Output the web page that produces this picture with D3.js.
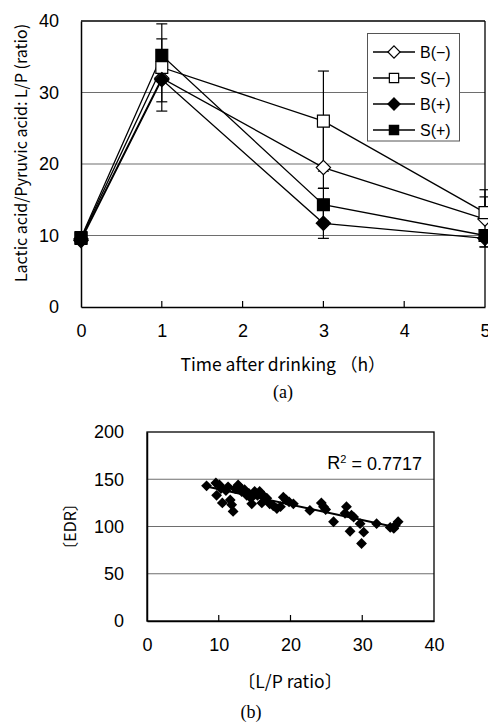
<!DOCTYPE html>
<html><head><meta charset="utf-8">
<script src="https://cdn.jsdelivr.net/npm/d3@7"></script>
<style>body{margin:0;background:#fff}svg{display:block}</style>
</head><body>
<script>
// ---- Chart (a) data ----
const hours = [0, 1, 3, 5];
const xTicksA = [0, 1, 2, 3, 4, 5];
const yTicksA = [0, 10, 20, 30, 40];
const seriesNames = ["B(\u2212)", "S(\u2212)", "B(+)", "S(+)"];
const seriesShapes = ["diamond", "square", "diamond", "square"];
const seriesFilled = [false, false, true, true];
const valsBminus = [9.5, 32.0, 19.5, 12.3];
const valsSminus = [9.6, 33.5, 26.0, 13.2];
const valsBplus  = [9.3, 31.8, 11.7, 9.6];
const valsSplus  = [9.7, 35.2, 14.3, 10.0];
const errUpBminus = [0, 0, 6.5, 3.1];
const errDnBminus = [0, 3.3, 2.9, 0];
const errUpSminus = [0, 4.0, 7.0, 3.2];
const errDnSminus = [0, 0, 7.0, 0];
const errUpBplus  = [0, 0, 2.1, 0];
const errDnBplus  = [0, 4.4, 2.1, 1.2];
const errUpSplus  = [0, 4.4, 2.3, 0];
const errDnSplus  = [0, 0, 2.3, 1.6];

// ---- Chart (b) data ----
const lpRatio = [8.3,9.6,10.1,9.7,10.3,10.5,11.0,11.3,11.6,11.8,12.0,12.3,12.7,13.0,13.2,13.6,13.9,14.2,14.5,14.6,15.0,15.4,15.7,16.0,16.3,16.7,17.1,17.6,18.1,18.6,19.0,19.4,19.8,20.4,22.7,24.3,24.6,24.9,26.0,27.8,27.6,28.5,28.8,28.3,29.7,30.2,29.9,32.0,33.9,34.4,35.0,34.6];
const edr     = [143,146,144,133,140,125,138,142,128,123,116,140,144,141,137,139,133,135,130,124,137,133,137,125,132,130,124,122,119,121,131,128,126,124,117,125,121,118,105,121,114,112,110,95,103,94,82,103,99,98,105,101];
const xTicksB = [0, 10, 20, 30, 40];
const yTicksB = [0, 50, 100, 150, 200];
const trendSlope = -1.64, trendIntercept = 156, trendFrom = 8.3, trendTo = 35.0;
const r2Label = "0.7717";

const W = 488, H = 722;
const svg = d3.select("body").append("svg").attr("width", W).attr("height", H);
svg.append("rect").attr("width", W).attr("height", H).attr("fill", "#fff");

const numFont = "'Liberation Sans', Arial, sans-serif";
const jpFont = "'Noto Sans CJK JP', 'Liberation Sans', sans-serif";
const serif = "'Liberation Serif', 'Times New Roman', serif";

function markerPath(shape, size) {
  return d3.symbol().type(shape === "diamond" ? d3.symbolDiamond2 : d3.symbolSquare2).size(size)();
}

// ================= Chart (a) =================
const xa = d3.scaleLinear().domain([0, 5]).range([81, 485]);
const ya = d3.scaleLinear().domain([0, 40]).range([307, 21]);
const ga = svg.append("g");

ga.selectAll("line.grid").data(yTicksA.filter(v => v > 0 && v < 40)).join("line")
  .attr("x1", xa(0)).attr("x2", xa(5)).attr("y1", d => ya(d)).attr("y2", d => ya(d))
  .attr("stroke", "#6e6e6e").attr("stroke-width", 1.2);
ga.append("line").attr("x1", xa(0)).attr("x2", xa(5)).attr("y1", ya(40)).attr("y2", ya(40)).attr("stroke", "#000").attr("stroke-width", 1.3);
ga.append("line").attr("x1", xa(5)).attr("x2", xa(5)).attr("y1", ya(40)).attr("y2", ya(0)).attr("stroke", "#000").attr("stroke-width", 1.3);
const axA = d3.axisBottom(xa).tickValues(xTicksA).tickSize(0).tickFormat(d3.format("d"));
const gxa = ga.append("g").attr("transform", `translate(0,${ya(0)})`).call(axA);
gxa.select(".domain").attr("stroke", "#000").attr("stroke-width", 1.5);
gxa.selectAll("text").attr("font-family", numFont).attr("font-size", 18).attr("fill", "#000").attr("dy", "1.5em");
ga.selectAll("line.xt").data(xTicksA.filter(v => v > 0 && v < 5)).join("line")
  .attr("x1", d => xa(d)).attr("x2", d => xa(d)).attr("y1", ya(0)).attr("y2", ya(0) - 6)
  .attr("stroke", "#000").attr("stroke-width", 1.2);
const ayA = d3.axisLeft(ya).tickValues(yTicksA).tickSize(0).tickPadding(22);
const gya = ga.append("g").attr("transform", `translate(${xa(0)},0)`).call(ayA);
gya.select(".domain").attr("stroke", "#000").attr("stroke-width", 1.5);
gya.selectAll("text").attr("font-family", numFont).attr("font-size", 18).attr("fill", "#000");

const seriesVals = [valsBminus, valsSminus, valsBplus, valsSplus];
const seriesUp = [errUpBminus, errUpSminus, errUpBplus, errUpSplus];
const seriesDn = [errDnBminus, errDnSminus, errDnBplus, errDnSplus];
const line = d3.line().x((d, i) => xa(hours[i])).y(d => ya(d));
seriesVals.forEach((vals) => {
  ga.append("path").attr("d", line(vals)).attr("fill", "none").attr("stroke", "#000").attr("stroke-width", 1.3);
});
seriesVals.forEach((vals, s) => {
  vals.forEach((v, i) => {
    const x = xa(hours[i]);
    [[seriesUp[s][i], 1], [seriesDn[s][i], -1]].forEach(([e, sign]) => {
      if (!e) return;
      const yEnd = ya(v + sign * e);
      ga.append("line").attr("x1", x).attr("x2", x).attr("y1", ya(v)).attr("y2", yEnd).attr("stroke", "#000").attr("stroke-width", 1.2);
      ga.append("line").attr("x1", x - 5.5).attr("x2", x + 5.5).attr("y1", yEnd).attr("y2", yEnd).attr("stroke", "#000").attr("stroke-width", 1.2);
    });
  });
});
seriesVals.forEach((vals, s) => {
  const size = seriesShapes[s] === "diamond" ? 130 : 180;
  ga.selectAll(null).data(vals).join("path")
    .attr("d", markerPath(seriesShapes[s], size))
    .attr("transform", (d, i) => `translate(${xa(hours[i])},${ya(d)})`)
    .attr("fill", seriesFilled[s] ? "#000" : "#fff")
    .attr("stroke", "#000").attr("stroke-width", 1.2);
});
const lg = ga.append("g");
lg.append("rect").attr("x", 367.5).attr("y", 33.5).attr("width", 92).attr("height", 107.5)
  .attr("fill", "#fff").attr("stroke", "#555").attr("stroke-width", 1);
seriesNames.forEach((name, s) => {
  const y = 52 + s * 26;
  lg.append("line").attr("x1", 373).attr("x2", 415).attr("y1", y).attr("y2", y).attr("stroke", "#000").attr("stroke-width", 1.3);
  lg.append("path").attr("d", markerPath(seriesShapes[s], seriesShapes[s] === "diamond" ? 95 : 110))
    .attr("transform", `translate(394,${y})`)
    .attr("fill", seriesFilled[s] ? "#000" : "#fff").attr("stroke", "#000").attr("stroke-width", 1.2);
  lg.append("text").attr("x", 420).attr("y", y).attr("dy", "0.36em")
    .attr("font-family", numFont).attr("font-size", 16).attr("fill", "#000").text(name);
});
svg.append("text").attr("transform", `translate(21,153) rotate(-90)`).attr("text-anchor", "middle")
  .attr("dy", "0.36em").attr("font-family", jpFont).attr("font-size", 16).attr("fill", "#000")
  .text("Lactic acid/Pyruvic acid: L/P (ratio)");
svg.append("text").attr("x", 283).attr("y", 365).attr("text-anchor", "middle").attr("dy", "0.36em")
  .attr("font-family", jpFont).attr("font-size", 17.5).attr("fill", "#000").text("Time after drinking （h）");
svg.append("text").attr("x", 283).attr("y", 392).attr("text-anchor", "middle").attr("dy", "0.36em")
  .attr("font-family", serif).attr("font-size", 18).attr("fill", "#000").text("(a)");

// ================= Chart (b) =================
const xb = d3.scaleLinear().domain([0, 40]).range([147, 434]);
const yb = d3.scaleLinear().domain([0, 200]).range([621, 432]);
const gb = svg.append("g");
gb.selectAll("line.grid").data(yTicksB.filter(v => v > 0 && v < 200)).join("line")
  .attr("x1", xb(0)).attr("x2", xb(40)).attr("y1", d => yb(d)).attr("y2", d => yb(d))
  .attr("stroke", "#6e6e6e").attr("stroke-width", 1.2);
gb.append("rect").attr("x", xb(0)).attr("y", yb(200)).attr("width", xb(40) - xb(0)).attr("height", yb(0) - yb(200))
  .attr("fill", "none").attr("stroke", "#000").attr("stroke-width", 1.3);
const axB = d3.axisBottom(xb).tickValues(xTicksB).tickSize(0);
const gxb = gb.append("g").attr("transform", `translate(0,${yb(0)})`).call(axB);
gxb.select(".domain").attr("stroke", "#000").attr("stroke-width", 1.5);
gxb.selectAll("text").attr("font-family", numFont).attr("font-size", 18).attr("fill", "#000").attr("dy", "1.5em");
gb.selectAll("line.xt").data(xTicksB.filter(v => v > 0 && v < 40)).join("line")
  .attr("x1", d => xb(d)).attr("x2", d => xb(d)).attr("y1", yb(0)).attr("y2", yb(0) - 6)
  .attr("stroke", "#000").attr("stroke-width", 1.2);
const ayB = d3.axisLeft(yb).tickValues(yTicksB).tickSize(0).tickPadding(23);
const gyb = gb.append("g").attr("transform", `translate(${xb(0)},0)`).call(ayB);
gyb.select(".domain").attr("stroke", "#000").attr("stroke-width", 1.5);
gyb.selectAll("text").attr("font-family", numFont).attr("font-size", 18).attr("fill", "#000");

gb.append("line").attr("x1", xb(trendFrom)).attr("x2", xb(trendTo))
  .attr("y1", yb(trendIntercept + trendSlope * trendFrom)).attr("y2", yb(trendIntercept + trendSlope * trendTo))
  .attr("stroke", "#000").attr("stroke-width", 2);
gb.selectAll(null).data(lpRatio).join("path")
  .attr("d", markerPath("diamond", 75))
  .attr("transform", (d, i) => `translate(${xb(d)},${yb(edr[i])})`)
  .attr("fill", "#000");
const r2 = gb.append("text").attr("x", 422).attr("y", 463).attr("text-anchor", "end").attr("dy", "0.36em")
  .attr("font-family", numFont).attr("font-size", 18).attr("fill", "#000");
r2.append("tspan").text("R");
r2.append("tspan").attr("font-size", 11).attr("dy", "-0.55em").text("2");
r2.append("tspan").attr("dy", "0.35em").text(" = " + r2Label);

svg.append("text").attr("transform", `translate(70,${yb(100)}) rotate(-90)`).attr("text-anchor", "middle")
  .attr("dy", "0.36em").attr("font-family", jpFont).attr("font-size", 16).attr("fill", "#000").text("〔EDR〕");
svg.append("text").attr("x", 290).attr("y", 682).attr("text-anchor", "middle").attr("dy", "0.36em")
  .attr("font-family", jpFont).attr("font-size", 17.5).attr("fill", "#000").text("〔L/P ratio〕");
svg.append("text").attr("x", 251).attr("y", 712).attr("text-anchor", "middle").attr("dy", "0.36em")
  .attr("font-family", serif).attr("font-size", 18).attr("fill", "#000").text("(b)");
</script>
</body></html>
